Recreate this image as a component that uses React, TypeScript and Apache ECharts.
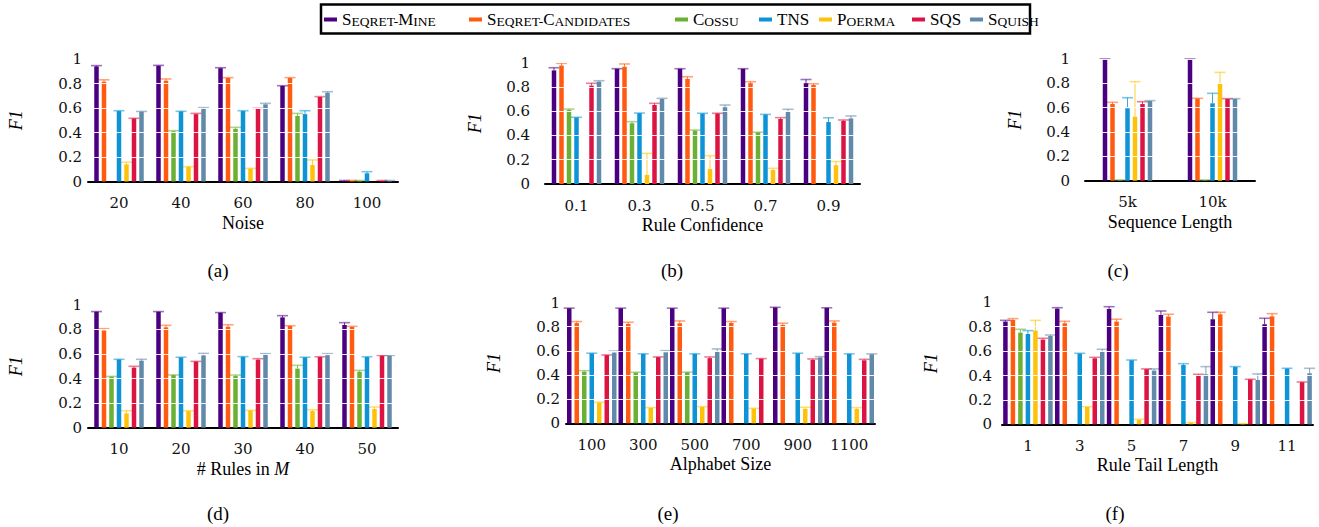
import React, { useEffect, useRef } from 'react';
import * as echarts from 'echarts';

const methods = ['Seqret-Mine', 'Seqret-Candidates', 'Cossu', 'TNS', 'Poerma', 'SQS', 'Squish'];
const colors = ['#4B0082', '#FF5A0F', '#69B034', '#0D93D6', '#FFC20A', '#DC1443', '#6189AA'];
const legendRich: Record<string, string> = {
  'Seqret-Mine': '{b|S}{s|EQRET-}{b|M}{s|INE}',
  'Seqret-Candidates': '{b|S}{s|EQRET-}{b|C}{s|ANDIDATES}',
  'Cossu': '{b|C}{s|OSSU}',
  'TNS': '{b|TNS}',
  'Poerma': '{b|P}{s|OERMA}',
  'SQS': '{b|SQS}',
  'Squish': '{b|S}{s|QUISH}',
};
const yTicks = [0.2, 0.4, 0.6, 0.8, 1];

// (a) Noise
const noiseCats = ['20', '40', '60', '80', '100'];
const noiseValues = [
  [0.94, 0.945, 0.925, 0.78, 0.005],
  [0.815, 0.823, 0.845, 0.845, 0.005],
  [0, 0.41, 0.43, 0.535, 0.005],
  [0.575, 0.572, 0.575, 0.55, 0.067],
  [0.14, 0.12, 0.105, 0.135, 0],
  [0.515, 0.55, 0.595, 0.69, 0.005],
  [0.57, 0.6, 0.63, 0.725, 0.005],
];
const noiseUpper = [
  [0.946, 0.948, 0.929, 0.782, 0.008],
  [0.83, 0.837, 0.848, 0.848, 0.008],
  [0, 0.415, 0.442, 0.556, 0.008],
  [0.578, 0.573, 0.578, 0.578, 0.08],
  [0.157, 0.121, 0.107, 0.176, 0],
  [0.516, 0.556, 0.597, 0.693, 0.008],
  [0.572, 0.603, 0.638, 0.733, 0.008],
];

// (b) Rule Confidence
const confCats = ['0.1', '0.3', '0.5', '0.7', '0.9'];
const confValues = [
  [0.935, 0.948, 0.948, 0.948, 0.83],
  [0.975, 0.965, 0.865, 0.83, 0.815],
  [0.61, 0.5, 0.44, 0.425, 0],
  [0.548, 0.583, 0.58, 0.572, 0.51],
  [0, 0.075, 0.123, 0.115, 0.155],
  [0.81, 0.65, 0.58, 0.535, 0.52],
  [0.842, 0.7, 0.632, 0.595, 0.54],
];
const confUpper = [
  [0.957, 0.949, 0.949, 0.949, 0.86],
  [0.993, 0.988, 0.883, 0.842, 0.825],
  [0.617, 0.513, 0.444, 0.426, 0],
  [0.549, 0.584, 0.582, 0.573, 0.545],
  [0, 0.252, 0.233, 0.129, 0.185],
  [0.829, 0.664, 0.582, 0.546, 0.527],
  [0.85, 0.705, 0.65, 0.615, 0.56],
];

// (c) Sequence Length
const lenCats = ['5k', '10k'];
const lenValues = [
  [1.0, 1.0],
  [0.63, 0.675],
  [0.004, 0.004],
  [0.595, 0.636],
  [0.526, 0.8],
  [0.63, 0.672],
  [0.655, 0.672],
];
const lenUpper = [
  [1.0, 1.0],
  [0.644, 0.677],
  [0.006, 0.006],
  [0.682, 0.718],
  [0.814, 0.89],
  [0.649, 0.674],
  [0.658, 0.674],
];

// (d) # Rules in M
const rulesCats = ['10', '20', '30', '40', '50'];
const rulesValues = [
  [0.943, 0.943, 0.935, 0.897, 0.835],
  [0.79, 0.816, 0.821, 0.828, 0.82],
  [0.415, 0.428, 0.42, 0.48, 0.455],
  [0.555, 0.572, 0.577, 0.572, 0.575],
  [0.117, 0.135, 0.14, 0.136, 0.152],
  [0.488, 0.538, 0.553, 0.575, 0.586],
  [0.545, 0.588, 0.6, 0.59, 0.586],
];
const rulesUpper = [
  [0.944, 0.944, 0.936, 0.911, 0.854],
  [0.805, 0.832, 0.837, 0.829, 0.824],
  [0.417, 0.429, 0.428, 0.507, 0.466],
  [0.556, 0.573, 0.578, 0.573, 0.577],
  [0.138, 0.138, 0.141, 0.146, 0.168],
  [0.499, 0.539, 0.561, 0.577, 0.588],
  [0.556, 0.604, 0.602, 0.602, 0.588],
];

// (e) Alphabet Size
const alphaCats = ['100', '300', '500', '700', '900', '1100'];
const alphaValues = [
  [0.953, 0.953, 0.953, 0.953, 0.96, 0.956],
  [0.83, 0.823, 0.829, 0.831, 0.815, 0.834],
  [0.428, 0.42, 0.423, 0, 0, 0],
  [0.58, 0.575, 0.575, 0.575, 0.58, 0.575],
  [0.172, 0.128, 0.135, 0.122, 0.12, 0.119],
  [0.565, 0.548, 0.54, 0.535, 0.525, 0.522],
  [0.586, 0.588, 0.594, 0, 0.545, 0.572],
];
const alphaUpper = [
  [0.954, 0.954, 0.954, 0.954, 0.961, 0.957],
  [0.843, 0.837, 0.848, 0.843, 0.829, 0.848],
  [0.436, 0.423, 0.424, 0, 0, 0],
  [0.581, 0.576, 0.576, 0.576, 0.581, 0.576],
  [0.174, 0.13, 0.138, 0.124, 0.133, 0.13],
  [0.566, 0.55, 0.55, 0.536, 0.533, 0.53],
  [0.599, 0.602, 0.616, 0, 0.552, 0.575],
];

// (f) Rule Tail Length
const tailCats = ['1', '3', '5', '7', '9', '11'];
const tailValues = [
  [0.842, 0.948, 0.945, 0.896, 0.861, 0.82],
  [0.855, 0.828, 0.842, 0.883, 0.902, 0.885],
  [0.751, 0, 0, 0, 0, 0],
  [0.74, 0.58, 0.525, 0.486, 0.47, 0.457],
  [0.768, 0.143, 0.035, 0.012, 0.005, 0],
  [0.694, 0.541, 0.452, 0.4, 0.368, 0.345],
  [0.724, 0.596, 0.44, 0.41, 0.363, 0.418],
];
const tailUpper = [
  [0.852, 0.956, 0.964, 0.929, 0.918, 0.869],
  [0.866, 0.844, 0.861, 0.902, 0.918, 0.907],
  [0.779, 0, 0, 0, 0, 0],
  [0.768, 0.582, 0.527, 0.497, 0.473, 0.459],
  [0.852, 0.145, 0.041, 0.014, 0.006, 0],
  [0.705, 0.549, 0.454, 0.41, 0.369, 0.347],
  [0.732, 0.615, 0.454, 0.473, 0.413, 0.459],
];

const SERIF = '"Liberation Serif", "Times New Roman", serif';
const NUMF = '"DejaVu Serif", serif';
const BAR_W = 4.5;
const STEP = 7.5;

const panels = [
  { cats: noiseCats, vals: noiseValues, up: noiseUpper, name: 'Noise', grid: { left: 88, top: 59, width: 310, height: 122.5 }, lm: 6, ng: 63, cap: '(a)', cx: 218, cy: 270 },
  { cats: confCats, vals: confValues, up: confUpper, name: 'Rule Confidence', grid: { left: 545, top: 62.5, width: 315, height: 121.5 }, lm: 15, ng: 61, cap: '(b)', cx: 672, cy: 270 },
  { cats: lenCats, vals: lenValues, up: lenUpper, name: 'Sequence Length', grid: { left: 1085, top: 59, width: 170, height: 121.7 }, lm: 15, ng: 61, cap: '(c)', cx: 1118, cy: 270 },
  { cats: rulesCats, vals: rulesValues, up: rulesUpper, name: '# Rules in {i|M}', grid: { left: 88, top: 304.7, width: 310, height: 123 }, lm: 6, ng: 63, cap: '(d)', cx: 218, cy: 513 },
  { cats: alphaCats, vals: alphaValues, up: alphaUpper, name: 'Alphabet Size', grid: { left: 566, top: 302.6, width: 309, height: 120.7 }, lm: 6, ng: 63, cap: '(e)', cx: 668, cy: 513 },
  { cats: tailCats, vals: tailValues, up: tailUpper, name: 'Rule Tail Length', grid: { left: 1002, top: 302.3, width: 311, height: 122 }, lm: 10, ng: 62, cap: '(f)', cx: 1115, cy: 513 },
];

const legendLeft = [324, 469, 675, 759, 819, 912, 970];

function buildOption() {
  const series: any[] = [];
  panels.forEach((p, i) => {
    methods.forEach((m, s) => {
      series.push({
        type: 'bar',
        name: m,
        xAxisIndex: i,
        yAxisIndex: i,
        data: p.vals[s],
        barWidth: BAR_W,
        barGap: '66.67%',
        itemStyle: { color: colors[s] },
        markLine: s === 6 ? {
          silent: true,
          symbol: 'none',
          label: { show: false },
          lineStyle: { color: '#ffffff', type: 'solid', width: 1.2, opacity: 0.9 },
          data: yTicks.map((t) => ({ yAxis: t })),
        } : undefined,
      });
    });
    const errData: number[][] = [];
    p.vals.forEach((row, s) => {
      row.forEach((v, c) => {
        if (p.up[s][c] > 0) errData.push([c, s, v, p.up[s][c]]);
      });
    });
    series.push({
      type: 'custom',
      xAxisIndex: i,
      yAxisIndex: i,
      silent: true,
      encode: { x: 0, y: [2, 3] },
      data: errData,
      renderItem: (params: any, api: any) => {
        const c = api.value(0);
        const s = api.value(1);
        const base = api.coord([c, api.value(2)]);
        const top = api.coord([c, api.value(3)]);
        const x = base[0] + (s - 3) * STEP;
        const col = colors[s];
        return {
          type: 'group',
          children: [
            { type: 'line', shape: { x1: x, y1: base[1], x2: x, y2: top[1] }, style: { stroke: col, lineWidth: 1, opacity: 0.8 } },
            { type: 'line', shape: { x1: x - 5.5, y1: top[1], x2: x + 5.5, y2: top[1] }, style: { stroke: col, lineWidth: 1.6, opacity: 0.55 } },
          ],
        };
      },
    });
  });

  return {
    animation: false,
    backgroundColor: '#ffffff',
    legend: methods.map((m, s) => ({
      data: [m],
      left: legendLeft[s],
      top: 11,
      padding: 0,
      itemWidth: 13,
      itemHeight: 4,
      itemGap: 0,
      icon: 'rect',
      selectedMode: false,
      formatter: (n: string) => legendRich[n],
      textStyle: {
        color: '#000',
        fontFamily: SERIF,
        fontSize: 17,
        rich: {
          b: { fontSize: 17, lineHeight: 17, fontFamily: SERIF, color: '#000', verticalAlign: 'bottom' },
          s: { fontSize: 13.5, lineHeight: 13.5, fontFamily: SERIF, color: '#000', verticalAlign: 'bottom' },
        },
      },
    })),
    grid: panels.map((p) => ({ ...p.grid, containLabel: false })),
    xAxis: panels.map((p, i) => ({
      type: 'category',
      gridIndex: i,
      data: p.cats,
      name: p.name,
      nameLocation: 'middle',
      nameGap: 32,
      nameTextStyle: {
        fontFamily: SERIF,
        fontSize: 18,
        color: '#000',
        rich: { i: { fontFamily: SERIF, fontSize: 18, fontStyle: 'italic', color: '#000' } },
      },
      axisLine: { lineStyle: { color: '#000', width: 2 } },
      axisTick: { alignWithLabel: true, interval: 0, length: 4, lineStyle: { color: '#000', width: 1 } },
      axisLabel: { interval: 0, fontFamily: NUMF, fontSize: 15, color: '#111', margin: 14 },
      splitLine: { show: false },
    })),
    yAxis: panels.map((p, i) => ({
      type: 'value',
      gridIndex: i,
      min: 0,
      max: 1,
      interval: 0.2,
      name: 'F1',
      nameLocation: 'middle',
      nameGap: p.ng,
      nameTextStyle: { fontFamily: SERIF, fontStyle: 'italic', fontSize: 18, color: '#000' },
      axisLine: { show: false },
      axisTick: { show: false },
      splitLine: { show: false },
      axisLabel: {
        fontFamily: NUMF,
        fontSize: 15,
        color: '#111',
        margin: p.lm,
        formatter: (v: number) => String(Math.round(v * 10) / 10),
      },
    })),
    graphic: [
      {
        type: 'rect',
        shape: { x: 321, y: 4.5, width: 709, height: 29 },
        style: { fill: 'none', stroke: '#000', lineWidth: 2.5 },
      },
      ...panels.map((p) => ({
        type: 'text',
        x: p.cx,
        y: p.cy,
        style: {
          text: p.cap,
          align: 'center',
          verticalAlign: 'middle',
          textAlign: 'center',
          textVerticalAlign: 'middle',
          font: '19px "Liberation Serif", serif',
          fill: '#000',
        },
      })),
    ],
    series,
  };
}

export default function App() {
  const ref = useRef<HTMLDivElement>(null);
  useEffect(() => {
    if (!ref.current) return;
    const chart = echarts.init(ref.current, null, { renderer: 'svg' });
    chart.setOption(buildOption() as any);
    return () => chart.dispose();
  }, []);
  return (
    <div
      ref={ref}
      style={{ position: 'absolute', left: 0, top: 0, width: 1319, height: 527, background: '#fff' }}
    />
  );
}
